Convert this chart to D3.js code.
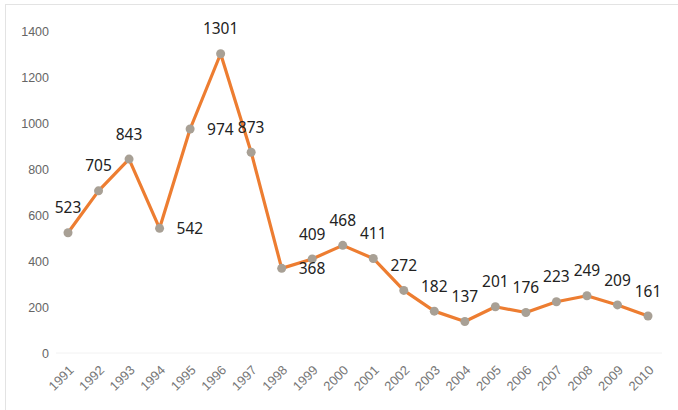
<!DOCTYPE html>
<html>
<head>
<meta charset="utf-8">
<script src="https://cdn.jsdelivr.net/npm/d3@7"></script>
<style>
  body { margin: 0; background: #fff; }
  svg { display: block; }
</style>
</head>
<body>
<div id="chart"></div>
<script>
let w = 678;
let h = 410;

let years = ["1991", "1992", "1993", "1994", "1995", "1996", "1997", "1998", "1999", "2000",
             "2001", "2002", "2003", "2004", "2005", "2006", "2007", "2008", "2009", "2010"];
let values = [523, 705, 843, 542, 974, 1301, 873, 368, 409, 468,
              411, 272, 182, 137, 201, 176, 223, 249, 209, 161];
// where each data label sits relative to its point
let labelPos = ["top", "top", "top", "right", "right", "top", "top", "right", "top", "top",
                "top", "top", "top", "top", "top", "top", "top", "top", "top", "top"];
let yTicks = [0, 200, 400, 600, 800, 1000, 1200, 1400];

let data = years.map((y, i) => ({ year: y, value: values[i], pos: labelPos[i] }));

let svg = d3.select("#chart")
            .append("svg")
            .attr("width", w)
            .attr("height", h);

// faint frame (top and left edges visible)
svg.append("rect")
   .attr("x", 5.5)
   .attr("y", 4.5)
   .attr("width", w + 10)
   .attr("height", h + 10)
   .attr("fill", "none")
   .attr("stroke", "#e3e3e3");

let xScale = d3.scalePoint(years, [68, 648]);
let yScale = d3.scaleLinear([0, 1400], [353, 31]);

// y axis labels
let yAxis = d3.axisLeft(yScale).tickValues(yTicks).tickFormat(d3.format("d")).tickSize(0).tickPadding(0);
let gy = svg.append("g")
            .attr("transform", "translate(49,0)")
            .call(yAxis);
gy.select(".domain").remove();
gy.selectAll("text")
  .attr("fill", "#666")
  .style("font-family", "Liberation Sans, Arial, sans-serif")
  .style("font-size", "12.5px");

// baseline
svg.append("line")
   .attr("x1", 56).attr("x2", 662)
   .attr("y1", yScale(0)).attr("y2", yScale(0))
   .attr("stroke", "#f2f2f2");

// x axis labels, rotated
let xAxis = d3.axisBottom(xScale).tickSize(0).tickPadding(0);
let gx = svg.append("g")
            .attr("transform", `translate(0,${yScale(0) + 12})`)
            .call(xAxis);
gx.select(".domain").remove();
gx.selectAll("text")
  .attr("fill", "#777")
  .attr("text-anchor", "end")
  .attr("dy", 0)
  .attr("transform", "translate(6,6) rotate(-45)")
  .style("font-family", "Liberation Sans, Arial, sans-serif")
  .style("font-size", "13px");

// line
let line = d3.line()
             .x((d) => xScale(d.year))
             .y((d) => yScale(d.value));

svg.append("path")
   .datum(data)
   .attr("d", line)
   .attr("fill", "none")
   .attr("stroke", "#ED7D31")
   .attr("stroke-width", 3.2)
   .attr("stroke-linejoin", "round");

// markers
svg.selectAll("circle")
   .data(data)
   .enter()
   .append("circle")
   .attr("cx", (d) => xScale(d.year))
   .attr("cy", (d) => yScale(d.value))
   .attr("r", 4.5)
   .attr("fill", "#a8a095");

// data labels
svg.selectAll(".lbl")
   .data(data)
   .enter()
   .append("text")
   .attr("class", "lbl")
   .attr("x", (d) => xScale(d.year) + (d.pos === "right" ? 17 : 0))
   .attr("y", (d) => yScale(d.value) + (d.pos === "right" ? 0 : -25))
   .attr("dy", "0.36em")
   .attr("text-anchor", (d) => (d.pos === "right" ? "start" : "middle"))
   .attr("fill", "#222")
   .style("font-family", "Noto Sans, Open Sans, sans-serif")
   .style("font-size", "15.5px")
   .text((d) => d.value);
</script>
</body>
</html>
